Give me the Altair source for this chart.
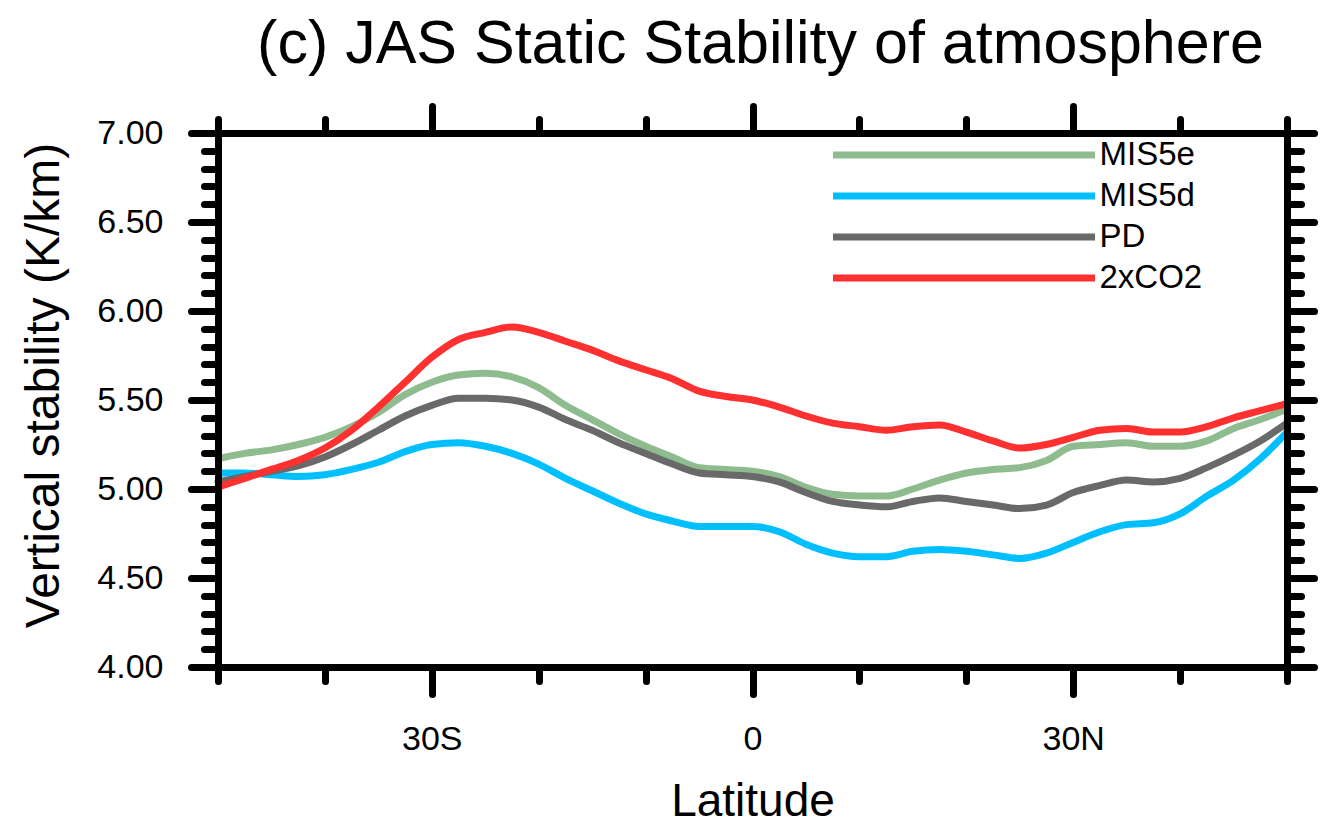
import altair as alt
import pandas as pd

# Latitude grid (degrees, negative = south)
lat = [-50, -47.5, -45, -42.5, -40, -37.5, -35, -32.5, -30, -27.5, -25, -22.5, -20,
       -17.5, -15, -12.5, -10, -7.5, -5, -2.5, 0, 2.5, 5, 7.5, 10, 12.5, 15, 17.5,
       20, 22.5, 25, 27.5, 30, 32.5, 35, 37.5, 40, 42.5, 45, 47.5, 50]

mis5e = [5.17, 5.20, 5.22, 5.25, 5.29, 5.35, 5.43, 5.53, 5.60, 5.64, 5.65, 5.63, 5.57,
         5.47, 5.39, 5.31, 5.24, 5.18, 5.12, 5.11, 5.10, 5.07, 5.01, 4.97, 4.96, 4.96,
         5.00, 5.05, 5.09, 5.11, 5.12, 5.16, 5.24, 5.25, 5.26, 5.24, 5.24, 5.27, 5.34,
         5.39, 5.45]

mis5d = [5.09, 5.09, 5.08, 5.07, 5.08, 5.11, 5.15, 5.21, 5.25, 5.26, 5.24, 5.20, 5.14,
         5.06, 4.99, 4.92, 4.86, 4.82, 4.79, 4.79, 4.79, 4.76, 4.69, 4.64, 4.62, 4.62,
         4.65, 4.66, 4.65, 4.63, 4.61, 4.64, 4.70, 4.76, 4.80, 4.81, 4.86, 4.96, 5.05,
         5.17, 5.32]

pd_run = [5.04, 5.07, 5.10, 5.13, 5.18, 5.25, 5.33, 5.41, 5.47, 5.51, 5.51, 5.50, 5.46,
          5.39, 5.33, 5.26, 5.20, 5.14, 5.09, 5.08, 5.07, 5.04, 4.98, 4.93, 4.91, 4.90,
          4.93, 4.95, 4.93, 4.91, 4.89, 4.91, 4.98, 5.02, 5.05, 5.04, 5.06, 5.12, 5.19,
          5.27, 5.37]

co2x2 = [5.01, 5.06, 5.11, 5.16, 5.23, 5.33, 5.46, 5.60, 5.74, 5.84, 5.88, 5.91, 5.88,
         5.83, 5.78, 5.72, 5.67, 5.62, 5.55, 5.52, 5.50, 5.46, 5.41, 5.37, 5.35, 5.33,
         5.35, 5.36, 5.32, 5.27, 5.23, 5.25, 5.29, 5.33, 5.34, 5.32, 5.32, 5.35, 5.40,
         5.44, 5.48]

series_names = ["MIS5e", "MIS5d", "PD", "2xCO2"]
series_colors = ["#8FBC8F", "#00BFFF", "#696969", "#FF3030"]

x_major = [-30, 0, 30]
x_minor = [-50, -40, -20, -10, 10, 20, 40, 50]
y_major = [4.0, 4.5, 5.0, 5.5, 6.0, 6.5, 7.0]
y_minor = [round(4 + i * 0.1, 1) for i in range(31)]

rows = []
for name, vals in zip(series_names, [mis5e, mis5d, pd_run, co2x2]):
    for la, v in zip(lat, vals):
        rows.append({"lat": la, "value": v, "run": name})
df = pd.DataFrame(rows)

FONT = "Liberation Sans"
MAJ = 27
MIN = 14

xscale = alt.Scale(domain=[-50, 50], nice=False, zero=False)
yscale = alt.Scale(domain=[4, 7], nice=False, zero=False)

tick_style = dict(tickColor="black", tickWidth=7, tickCap="round", grid=False, zindex=2)
domain_style = dict(domain=True, domainColor="black", domainWidth=7, domainCap="square")

base = alt.Chart(df)

lines = base.mark_line(strokeWidth=7, strokeJoin="round", strokeCap="round",
                       interpolate="monotone").encode(
    x=alt.X("lat:Q", scale=xscale, axis=alt.Axis(
        orient="bottom", values=x_major, tickSize=MAJ,
        labelExpr="datum.value < 0 ? abs(datum.value) + 'S' : (datum.value > 0 ? datum.value + 'N' : '0')",
        labelFontSize=34, labelPadding=28, labelFont=FONT, labelColor="black",
        labelOverlap=False,
        title="Latitude", titleFontSize=46, titlePadding=23, titleFont=FONT,
        titleFontWeight="normal", titleColor="black",
        **tick_style, **domain_style)),
    y=alt.Y("value:Q", scale=yscale, axis=alt.Axis(
        orient="left", values=y_major, format=".2f", tickSize=MAJ,
        labelFontSize=34, labelPadding=28, labelFont=FONT, labelColor="black",
        labelOverlap=False,
        title="Vertical stability (K/km)", titleFontSize=48, titlePadding=28,
        titleY=252,
        titleFont=FONT, titleFontWeight="normal", titleColor="black",
        **tick_style, **domain_style)),
    color=alt.Color("run:N", sort=series_names,
                    scale=alt.Scale(domain=series_names, range=series_colors),
                    legend=alt.Legend(
                        title=None, orient="none", legendX=611.5, legendY=6,
                        symbolType="stroke", symbolSize=68644, symbolStrokeWidth=7,
                        clipHeight=32, rowPadding=8, labelFontSize=33, labelOffset=1,
                        labelFont=FONT, labelColor="black", padding=0, symbolOffset=0,
                        labelLimit=0)),
)


def ghost(xaxis, yaxis):
    return base.mark_point(opacity=0).encode(
        x=alt.X("lat:Q", scale=xscale, axis=xaxis),
        y=alt.Y("value:Q", scale=yscale, axis=yaxis),
    )


bottom_minor = alt.Axis(orient="bottom", values=x_minor, tickSize=MIN, labels=False,
                        domain=False, title=None, **tick_style)
left_minor = alt.Axis(orient="left", values=y_minor, tickSize=MIN, labels=False,
                      domain=False, title=None, **tick_style)
top_major = alt.Axis(orient="top", values=x_major, tickSize=MAJ, labels=False,
                     title=None, **tick_style, **domain_style)
right_major = alt.Axis(orient="right", values=y_major, tickSize=MAJ, labels=False,
                       title=None, **tick_style, **domain_style)
top_minor = alt.Axis(orient="top", values=x_minor, tickSize=MIN, labels=False,
                     domain=False, title=None, **tick_style)
right_minor = alt.Axis(orient="right", values=y_minor, tickSize=MIN, labels=False,
                       domain=False, title=None, **tick_style)

chart = alt.layer(
    lines,
    ghost(bottom_minor, left_minor),
    ghost(top_major, right_major),
    ghost(top_minor, right_minor),
).resolve_axis(
    x="independent", y="independent"
).properties(
    width=1069,
    height=534,
    autosize=alt.AutoSizeParams(type="none"),
    padding={"left": 210, "top": 125, "right": 36, "bottom": 166},
    title=alt.Title("(c) JAS Static Stability of atmosphere", fontSize=61,
                    fontWeight="normal", font=FONT, color="black",
                    anchor="middle", offset=27, dx=8),
).configure_view(
    strokeWidth=0
).configure(
    background="white"
)

chart.save("out.html", embed_options={"renderer": "svg", "actions": False})
